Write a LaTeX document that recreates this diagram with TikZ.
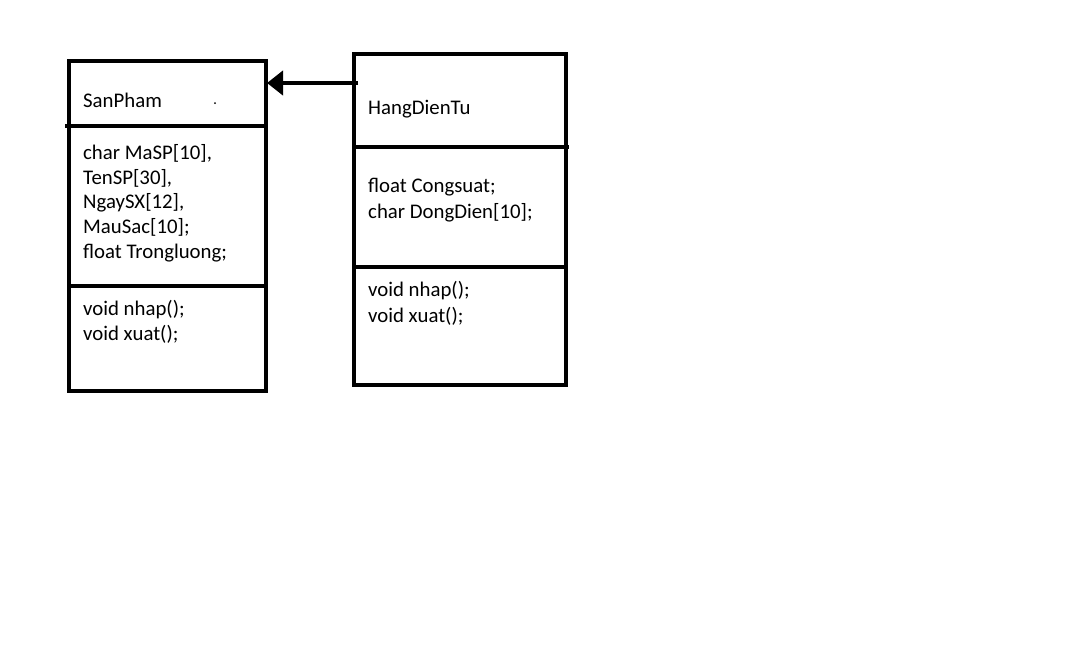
\documentclass[tikz,border=0pt]{standalone}
\usepackage{fontspec}
\setmainfont{Carlito}
\usetikzlibrary{arrows.meta}
\begin{document}
\begin{tikzpicture}[x=1pt,y=-1pt,
  classbox/.style={draw=black,line width=4pt,rectangle,inner sep=0pt,outer sep=0pt},
  divider/.style={draw=black,line width=4pt},
  txt/.style={anchor=base west,inner sep=0pt,font=\fontsize{20.8}{25}\selectfont},
  inherit/.style={draw=black,line width=4pt,-{Triangle[length=16pt,width=24pt]}}]
  \useasboundingbox[fill=white] (0,0) rectangle (1073,662);

  % class SanPham
  \node[classbox,minimum width=197pt,minimum height=330pt] (sp) at (167.5,226) {};
  \draw[divider] (65,126) -- (268,126);
  \draw[divider] (67,286) -- (266,286);
  \node[txt] (spname) at (83,107) {SanPham};
  \fill (215,103) circle (1pt);
  \node[txt] (spa1) at (83,159) {char MaSP[10],};
  \node[txt] (spa2) at (83,184) {TenSP[30],};
  \node[txt] (spa3) at (83,208) {NgaySX[12],};
  \node[txt] (spa4) at (83,233) {MauSac[10];};
  \node[txt] (spa5) at (83,258) {float Trongluong;};
  \node[txt] (spm1) at (83,315) {void nhap();};
  \node[txt] (spm2) at (83,340) {void xuat();};

  % class HangDienTu
  \node[classbox,minimum width=212pt,minimum height=331pt] (hd) at (460,219.5) {};
  \draw[divider] (356,147) -- (569,147);
  \draw[divider] (356,267) -- (566,267);
  \node[txt] (hdname) at (368,114) {HangDienTu};
  \node[txt] (hda1) at (368,192) {float Congsuat;};
  \node[txt] (hda2) at (368,218) {char DongDien[10];};
  \node[txt] (hdm1) at (368,296) {void nhap();};
  \node[txt] (hdm2) at (368,322) {void xuat();};

  % inheritance: HangDienTu -> SanPham
  \draw[inherit] ([yshift=-29pt,xshift=4pt]hd.north west) -- ([yshift=-22pt,xshift=1pt]sp.north east);
\end{tikzpicture}
\end{document}
